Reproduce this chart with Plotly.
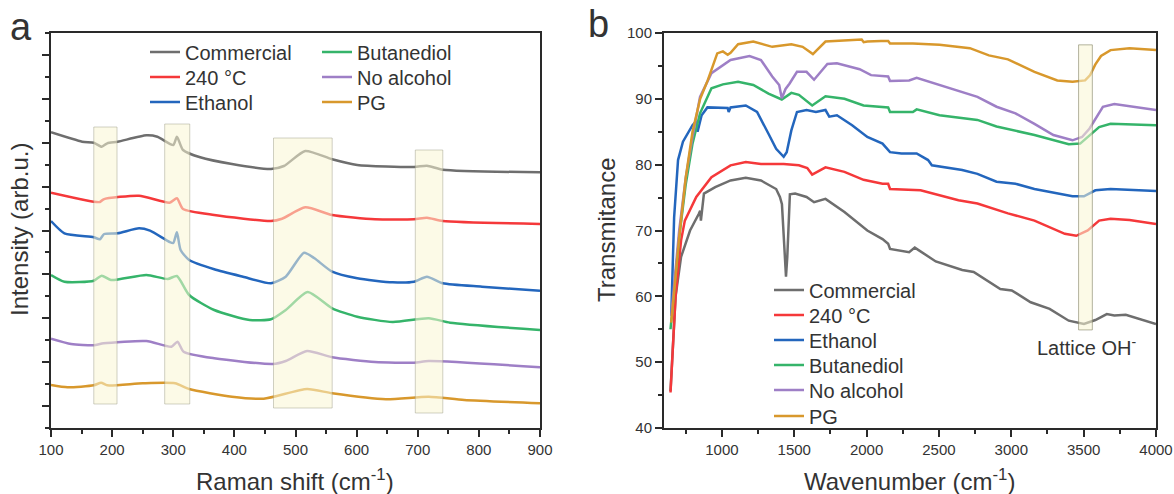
import plotly.graph_objects as go

W, H = 1174, 494

# ---------------- Panel a: Raman (intensity in arbitrary units) ----------------
names = ["Commercial", "240 °C", "Ethanol", "Butanediol", "No alcohol", "PG"]
colors = ["#6e6e6e", "#f5383a", "#2366bd", "#35b46a", "#9e7fc6", "#d8982c"]

ram_comm_x = [100, 151, 170, 183, 192, 209, 256, 274, 300, 306, 316, 344, 396, 460, 481, 516, 560, 601, 694, 715, 741, 900]
ram_comm_y = [295.7, 286.3, 285.3, 281.3, 284.7, 286.3, 292.7, 291.3, 283, 291.3, 278, 270.7, 264, 259, 262, 277, 268.7, 263, 261, 262.3, 258.3, 255.7]

ram_240_x = [100, 170, 180, 186, 244, 294, 306, 316, 367, 460, 478, 516, 560, 630, 694, 715, 741, 900]
ram_240_y = [235.3, 226.3, 226, 228.7, 232.3, 225.3, 229.7, 219, 213, 207, 209.3, 220.7, 213, 208.7, 208.7, 210.3, 207, 204]

ram_eth_x = [100, 122, 170, 180, 187, 209, 244, 262, 294, 300, 306, 312, 326, 367, 414, 460, 484, 514, 531, 560, 601, 659, 694, 715, 741, 805, 900]
ram_eth_y = [207, 194.7, 190.7, 188.7, 194, 194.7, 199.7, 197.3, 186, 185, 195.7, 178, 168, 158.7, 151.3, 144.7, 151.3, 175.3, 169.7, 156.3, 149.7, 145.7, 146.3, 151.3, 144.7, 141.3, 137.3]

ram_but_x = [100, 122, 170, 183, 198, 256, 291, 306, 326, 367, 425, 460, 484, 520, 560, 601, 659, 718, 753, 900]
ram_but_y = [153, 146.3, 147.3, 152.3, 148, 153, 149, 152, 133, 118, 108, 108.7, 118, 136, 119.7, 111.3, 106, 109.7, 105.3, 98]

ram_noal_x = [100, 133, 170, 186, 256, 297, 307, 317, 367, 463, 484, 519, 560, 630, 694, 718, 900]
ram_noal_y = [89.3, 84, 82.7, 84.7, 87, 81.3, 86.3, 76.3, 69.7, 64, 67, 77, 70.7, 66, 65.3, 67, 60.7]

ram_pg_x = [100, 127, 170, 182, 192, 250, 303, 326, 396, 448, 519, 560, 648, 718, 776, 900]
ram_pg_y = [43, 40.7, 42.7, 45.3, 42.7, 44.7, 44.7, 39, 31.3, 29.3, 39, 34.7, 28.7, 31.3, 28, 24.7]

# highlighted Raman bands: (x0, x1, y0, y1)
raman_bands = [(170, 208, 24, 301), (286, 327, 24, 304), (464, 560, 20, 290), (696, 741, 15, 278)]

# ---------------- Panel b: FTIR transmittance ----------------
ir_comm_x = [645, 680, 718, 780, 840, 850, 855, 876, 954, 1060, 1165, 1270, 1375, 1401, 1415, 1425, 1435, 1443, 1452, 1460, 1470, 1506, 1585, 1637, 1716, 1847, 1952, 2005, 2110, 2149, 2162, 2294, 2333, 2478, 2661, 2740, 2924, 3003, 3134, 3265, 3397, 3502, 3581, 3660, 3712, 3791, 4000]
ir_comm_t = [45.6, 60, 66, 70, 72.5, 73, 71.5, 75.6, 76.6, 77.6, 78.0, 77.6, 76.3, 75.1, 74, 70, 65, 63, 66, 71, 75.5, 75.6, 75.1, 74.3, 74.8, 72.8, 71.0, 70.0, 68.7, 68.0, 67.2, 66.7, 67.4, 65.3, 64.0, 63.7, 61.1, 60.9, 59.1, 58.1, 56.3, 55.8, 56.4, 57.3, 57.1, 57.2, 55.8]

ir_240_x = [645, 680, 718, 744, 823, 928, 1060, 1165, 1270, 1427, 1532, 1590, 1624, 1716, 1847, 1979, 2110, 2149, 2162, 2373, 2635, 2766, 2977, 3160, 3370, 3449, 3528, 3607, 3686, 3817, 4000]
ir_240_t = [45.4, 60, 68.5, 71.5, 75.1, 78.1, 79.9, 80.4, 80.1, 80.1, 79.9, 79.5, 78.5, 79.6, 78.9, 77.7, 77.1, 77.1, 76.3, 76.1, 74.6, 74.1, 72.6, 71.5, 69.5, 69.2, 70.0, 71.5, 71.8, 71.6, 71.0]

ir_eth_x = [650, 670, 697, 731, 797, 823, 832, 860, 900, 1007, 1040, 1047, 1060, 1165, 1243, 1322, 1375, 1427, 1448, 1480, 1519, 1585, 1650, 1716, 1742, 1795, 1900, 2005, 2110, 2162, 2241, 2346, 2425, 2451, 2583, 2661, 2766, 2898, 3029, 3160, 3423, 3502, 3581, 3686, 4000]
ir_eth_t = [57, 72, 80.7, 83.5, 86.0, 86.6, 85.0, 87.5, 88.7, 88.7, 88.6, 88.0, 88.7, 89.0, 88.0, 84.7, 82.4, 81.2, 81.9, 85.2, 88.0, 88.3, 88.0, 88.3, 87.3, 87.5, 86.0, 84.2, 83.2, 81.9, 81.7, 81.7, 80.7, 79.9, 79.4, 79.2, 78.6, 77.4, 77.1, 76.3, 75.2, 75.2, 76.1, 76.3, 76.0]

ir_but_x = [645, 680, 705, 750, 797, 849, 928, 1007, 1112, 1217, 1322, 1414, 1480, 1532, 1624, 1716, 1847, 1979, 2149, 2162, 2320, 2346, 2504, 2766, 2898, 3160, 3397, 3476, 3541, 3607, 3686, 4000]
ir_but_t = [55, 63, 69, 77, 83.2, 87.8, 91.6, 92.2, 92.6, 92.1, 90.8, 89.9, 90.9, 90.6, 89.0, 90.4, 90.0, 89.0, 88.7, 88.0, 88.0, 88.4, 87.5, 86.8, 85.8, 84.5, 83.1, 83.2, 84.5, 85.7, 86.2, 86.0]

ir_noal_x = [650, 680, 705, 750, 797, 849, 928, 1060, 1191, 1270, 1348, 1396, 1414, 1440, 1467, 1519, 1585, 1637, 1729, 1795, 1952, 2031, 2149, 2162, 2294, 2346, 2504, 2661, 2766, 2898, 3029, 3160, 3291, 3423, 3489, 3541, 3633, 3712, 4000]
ir_noal_t = [57, 64, 70, 78, 84.2, 90.3, 93.9, 95.9, 96.5, 95.9, 93.4, 92.1, 90.1, 91.5, 92.3, 94.1, 94.1, 92.9, 95.3, 95.4, 94.5, 93.6, 93.4, 92.7, 92.8, 93.2, 92.1, 91.1, 90.3, 88.8, 87.8, 86.2, 84.5, 83.7, 84.2, 85.5, 88.8, 89.2, 88.3]

ir_pg_x = [650, 680, 705, 750, 797, 850, 902, 968, 1007, 1040, 1060, 1112, 1217, 1348, 1480, 1558, 1629, 1716, 1847, 1966, 1980, 2005, 2100, 2149, 2162, 2320, 2504, 2714, 2845, 2977, 3160, 3318, 3423, 3510, 3545, 3580, 3620, 3686, 3817, 4000]
ir_pg_t = [56, 63, 69, 78, 85, 90, 92.8, 96.9, 97.2, 96.7, 97.0, 98.3, 98.7, 97.9, 98.3, 97.9, 96.8, 98.7, 98.9, 99.0, 98.6, 98.7, 98.8, 98.8, 98.4, 98.4, 98.2, 97.7, 96.6, 96.0, 94.1, 92.8, 92.6, 92.8, 93.6, 95.2, 96.5, 97.4, 97.7, 97.4]

lattice_band = (3465, 3560, 54.9, 98.2)

raman = [(ram_comm_x, ram_comm_y), (ram_240_x, ram_240_y), (ram_eth_x, ram_eth_y),
         (ram_but_x, ram_but_y), (ram_noal_x, ram_noal_y), (ram_pg_x, ram_pg_y)]
ftir = [(ir_comm_x, ir_comm_t), (ir_240_x, ir_240_t), (ir_eth_x, ir_eth_t),
        (ir_but_x, ir_but_t), (ir_noal_x, ir_noal_t), (ir_pg_x, ir_pg_t)]

# legend placement (pixels): panel a two columns, panel b one column
leg_a_pos = [(145, 52), (145, 77), (145, 102), (317, 52), (317, 77), (317, 102)]
leg_b_pos = [(769, 290), (769, 315), (769, 340), (769, 365), (769, 390), (769, 416)]

FONT = "Liberation Sans, Arial, Helvetica, sans-serif"

fig = go.Figure()

for i, (xs, ys) in enumerate(raman):
    fig.add_trace(go.Scatter(x=xs, y=ys, mode="lines", name=names[i],
                             line=dict(color=colors[i], width=2.5, shape="spline", smoothing=0.6),
                             xaxis="x", yaxis="y", legend="legend" if i == 0 else f"legend{i+1}",
                             hoverinfo="skip"))
for i, (xs, ts) in enumerate(ftir):
    fig.add_trace(go.Scatter(x=xs, y=ts, mode="lines", name=names[i],
                             line=dict(color=colors[i], width=2.5),
                             xaxis="x2", yaxis="y2", legend=f"legend{i+7}",
                             hoverinfo="skip"))

layout_legends = {}
for i, (px, py) in enumerate(leg_a_pos + leg_b_pos):
    key = "legend" if i == 0 else f"legend{i+1}"
    layout_legends[key] = dict(x=px / W, y=1 - py / H, xanchor="left", yanchor="middle",
                               bgcolor="rgba(0,0,0,0)", borderwidth=0,
                               font=dict(size=20, color="#333333", family=FONT),
                               itemwidth=30)

shapes = []
for (x0, x1, y0, y1) in raman_bands:
    shapes.append(dict(type="rect", xref="x", yref="y", x0=x0, x1=x1, y0=y0, y1=y1,
                       fillcolor="rgba(249,246,212,0.55)", line=dict(color="rgba(150,150,130,0.45)", width=1),
                       layer="above"))
x0, x1, y0, y1 = lattice_band
shapes.append(dict(type="rect", xref="x2", yref="y2", x0=x0, x1=x1, y0=y0, y1=y1,
                   fillcolor="rgba(249,246,212,0.55)", line=dict(color="rgba(130,130,100,0.6)", width=1),
                   layer="above"))

axis_common = dict(showline=True, linecolor="#2a2a2a", linewidth=2, mirror=True, automargin=False,
                   showgrid=False, zeroline=False, ticks="outside", tickcolor="#2a2a2a",
                   tickwidth=1.5, ticklen=7, tickfont=dict(size=15, color="#333333", family=FONT))

annotations = [
    dict(text="a", x=21 / W, y=1 - 27 / H, xref="paper", yref="paper", showarrow=False,
         font=dict(size=38, color="#333333", family=FONT), xanchor="center", yanchor="middle"),
    dict(text="b", x=598 / W, y=1 - 24 / H, xref="paper", yref="paper", showarrow=False,
         font=dict(size=38, color="#333333", family=FONT), xanchor="center", yanchor="middle"),
    dict(text="Raman shift (cm<sup>-1</sup>)", x=295 / W, y=1 - 480 / H, xref="paper", yref="paper",
         showarrow=False, font=dict(size=24, color="#333333", family=FONT), xanchor="center", yanchor="middle"),
    dict(text="Wavenumber (cm<sup>-1</sup>)", x=909 / W, y=1 - 480 / H, xref="paper", yref="paper",
         showarrow=False, font=dict(size=24, color="#333333", family=FONT), xanchor="center", yanchor="middle"),
    dict(text="Intensity (arb.u.)", x=19 / W, y=1 - 230 / H, xref="paper", yref="paper", textangle=-90,
         showarrow=False, font=dict(size=24, color="#333333", family=FONT), xanchor="center", yanchor="middle"),
    dict(text="Transmitance", x=606 / W, y=1 - 230 / H, xref="paper", yref="paper", textangle=-90,
         showarrow=False, font=dict(size=24, color="#333333", family=FONT), xanchor="center", yanchor="middle"),
    dict(text="Lattice OH<sup>-</sup>", x=3523, y=52.4, xref="x2", yref="y2",
         showarrow=False, font=dict(size=20, color="#333333", family=FONT), xanchor="center", yanchor="middle"),
]

fig.update_layout(
    template="none",
    width=W, height=H, margin=dict(l=0, r=0, t=0, b=0, autoexpand=False),
    paper_bgcolor="white", plot_bgcolor="white",
    font=dict(family=FONT, color="#333333"),
    xaxis=dict(domain=[51 / W, 540 / W], range=[100, 900], tickmode="linear", tick0=100, dtick=100,
               minor=dict(ticks="outside", tick0=50, dtick=50, ticklen=4, tickcolor="#2a2a2a", tickwidth=1.5),
               anchor="y", **axis_common),
    yaxis=dict(domain=[1 - 428 / H, 1 - 33 / H], range=[0, 395], tickmode="linear", tick0=21.94, dtick=43.88,
               showticklabels=False,
               minor=dict(ticks="outside", tick0=0, dtick=21.94, ticklen=4, tickcolor="#2a2a2a", tickwidth=1.5),
               anchor="x", **axis_common),
    xaxis2=dict(domain=[664 / W, 1156 / W], range=[600, 4000], tickmode="linear", tick0=1000, dtick=500,
                minor=dict(ticks="outside", tick0=750, dtick=250, ticklen=4, tickcolor="#2a2a2a", tickwidth=1.5),
                anchor="y2", **axis_common),
    yaxis2=dict(domain=[1 - 428 / H, 1 - 33 / H], range=[40, 100], tickmode="linear", tick0=40, dtick=10,
                minor=dict(ticks="outside", tick0=45, dtick=5, ticklen=4, tickcolor="#2a2a2a", tickwidth=1.5),
                anchor="x2", **axis_common),
    shapes=shapes,
    annotations=annotations,
    showlegend=True,
    **layout_legends,
)

fig.write_html("out.html")
